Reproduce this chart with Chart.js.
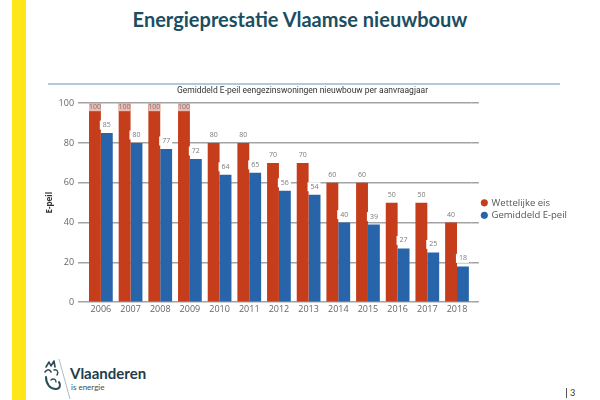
<!DOCTYPE html>
<html>
<head>
<meta charset="utf-8">
<script src="https://cdn.jsdelivr.net/npm/chart.js@4.4.0/dist/chart.umd.min.js"></script>
<style>
  body { margin: 0; background: #fff; font-family: "Open Sans", sans-serif; }
  #slide { position: relative; width: 600px; height: 400px; overflow: hidden; background: #fff; }
  #band { position: absolute; left: 12px; top: 0; width: 14px; height: 400px; background: #ffe619; }
  #title { position: absolute; left: 0; top: 7px; width: 600px; text-align: center;
           font-family: Lato, sans-serif; font-weight: bold; font-size: 20px; color: #1b4e62; }
  #topline { position: absolute; left: 48px; top: 83px; width: 512px; height: 2px; background: #b4c8e0; }
  #wrap { position: absolute; left: 35px; top: 80px; width: 540px; height: 245px; }
  #logo { position: absolute; left: 42px; top: 358px; }
  #vl { position: absolute; left: 70px; top: 364px; font-family: Lato, sans-serif; font-weight: bold; font-size: 15px; color: #223d4a; }
  #ie { position: absolute; left: 71px; top: 382px; font-family: Lato, sans-serif; font-size: 8px; color: #37505c; }
  #page { position: absolute; left: 566px; top: 388px; font-family: Lato, sans-serif; font-size: 9px; color: #333;
          border-left: 1px solid #555; padding-left: 3px; line-height: 10px; }
</style>
</head>
<body>
<div id="slide">
  <div id="band"></div>
  <div id="title">Energieprestatie Vlaamse nieuwbouw</div>
  <div id="topline"></div>
  <div id="wrap"><canvas id="mycanvas" width="540" height="245"></canvas></div>
  <svg id="logo" width="32" height="42" viewBox="0 0 32 42">
    <g fill="none" stroke="#2a4b58" stroke-linecap="round" stroke-linejoin="round">
      <path d="M4 9 L7 4 L9 8 L12 3 L13 9" stroke-width="1.6"/>
      <path d="M3 14 C5 11 8 11 9 14" stroke-width="1.6"/>
      <path d="M12 12 C15 11 17 14 15 17" stroke-width="1.4"/>
      <path d="M4 19 C4 26 8 31 14 31 C18 31 19 27 17 24" stroke-width="2"/>
      <path d="M9 22 C11 20 14 21 14 24" stroke-width="1.4"/>
    </g>
    <line x1="17" y1="1" x2="28" y2="41" stroke="#9aa9b0" stroke-width="0.8"/>
  </svg>
  <div id="vl">Vlaanderen</div>
  <div id="ie">is energie</div>
  <div id="page">3</div>
</div>
<script>
var years = ['2006', '2007', '2008', '2009', '2010', '2011', '2012', '2013', '2014', '2015', '2016', '2017', '2018'];
var wettelijkeEis = [100, 100, 100, 100, 80, 80, 70, 70, 60, 60, 50, 50, 40];
var gemiddeldEpeil = [85, 80, 77, 72, 64, 65, 56, 54, 40, 39, 27, 25, 18];
var yTicks = [0, 20, 40, 60, 80, 100];

// waarden boven de staven tekenen
var valueLabels = {
    id: 'valueLabels',
    afterDatasetsDraw: function(chart) {
        var ctx = chart.ctx;
        var top = chart.chartArea.top;
        ctx.save();
        ctx.font = '7px "Open Sans", sans-serif';
        ctx.textAlign = 'center';
        ctx.textBaseline = 'middle';
        chart.data.datasets.forEach(function(ds, di) {
            var meta = chart.getDatasetMeta(di);
            meta.data.forEach(function(bar, i) {
                var txt = String(ds.data[i]);
                var w = ctx.measureText(txt).width + 4;
                var cy = bar.y - 8;
                if (cy - 4 < top) {
                    cy = bar.y + 4;
                    ctx.fillStyle = 'rgba(236,186,176,1)';
                    ctx.fillRect(bar.x - bar.width / 2, bar.y, bar.width, 8);
                } else if (di == 1) {
                    ctx.fillStyle = '#ffffff';
                    ctx.fillRect(bar.x - w / 2 - 1, cy - 4.5, w + 1, 9);
                }
                ctx.fillStyle = '#7a7a7a';
                ctx.fillText(txt, bar.x, cy);
            });
        });
        ctx.restore();
    }
};

var chartdata = {
    labels: years,
    datasets: [
        {
            label: 'Wettelijke eis',
            backgroundColor: '#c53d1b',
            data: wettelijkeEis
        },
        {
            label: 'Gemiddeld E-peil',
            backgroundColor: '#2764aa',
            data: gemiddeldEpeil
        }
    ]
};

var gridColor = '#a3a3a3';

var ctx = document.getElementById('mycanvas');
var barGraph = new Chart(ctx, {
    type: 'bar',
    data: chartdata,
    plugins: [valueLabels],
    options: {
        responsive: false,
        animation: false,
        layout: { padding: { left: 3, right: 8, top: 0, bottom: 8 } },
        datasets: { bar: { categoryPercentage: 0.8, barPercentage: 1.0 } },
        plugins: {
            title: {
                display: true,
                text: 'Gemiddeld E-peil eengezinswoningen nieuwbouw per aanvraagjaar',
                color: '#333',
                font: { family: 'Roboto', size: 8.5, weight: 'normal' },
                padding: { top: 6, bottom: 7 }
            },
            legend: {
                position: 'right',
                title: { display: true, text: '', font: { size: 1 }, padding: { top: 10, bottom: 10 } },
                labels: {
                    usePointStyle: true,
                    pointStyle: 'circle',
                    boxWidth: 5,
                    boxHeight: 5,
                    padding: 3,
                    color: '#555',
                    font: { family: 'Open Sans', size: 9.5 }
                }
            },
            tooltip: { enabled: false }
        },
        scales: {
            x: {
                grid: { display: false, drawTicks: false },
                border: { display: false },
                ticks: { color: '#666', font: { family: 'Open Sans', size: 9 }, padding: 2 }
            },
            y: {
                min: 0,
                max: 100,
                afterBuildTicks: function(axis) {
                    axis.ticks = yTicks.map(function(v) { return { value: v }; });
                },
                grid: { color: gridColor, lineWidth: 1.5, tickLength: 8 },
                border: { display: false },
                ticks: { color: '#666', font: { family: 'Open Sans', size: 9 }, padding: 4 },
                title: {
                    display: true,
                    text: 'E-peil',
                    color: '#333',
                    font: { family: 'Open Sans', size: 8, weight: 'bold' },
                    padding: { top: 7, bottom: 0 }
                }
            },
            y2: {
                position: 'right',
                min: 0,
                max: 100,
                afterBuildTicks: function(axis) {
                    axis.ticks = yTicks.map(function(v) { return { value: v }; });
                },
                grid: { color: gridColor, lineWidth: 1.5, tickLength: 7, drawOnChartArea: false },
                border: { display: false },
                ticks: { display: false }
            }
        }
    }
});
</script>
</body>
</html>
